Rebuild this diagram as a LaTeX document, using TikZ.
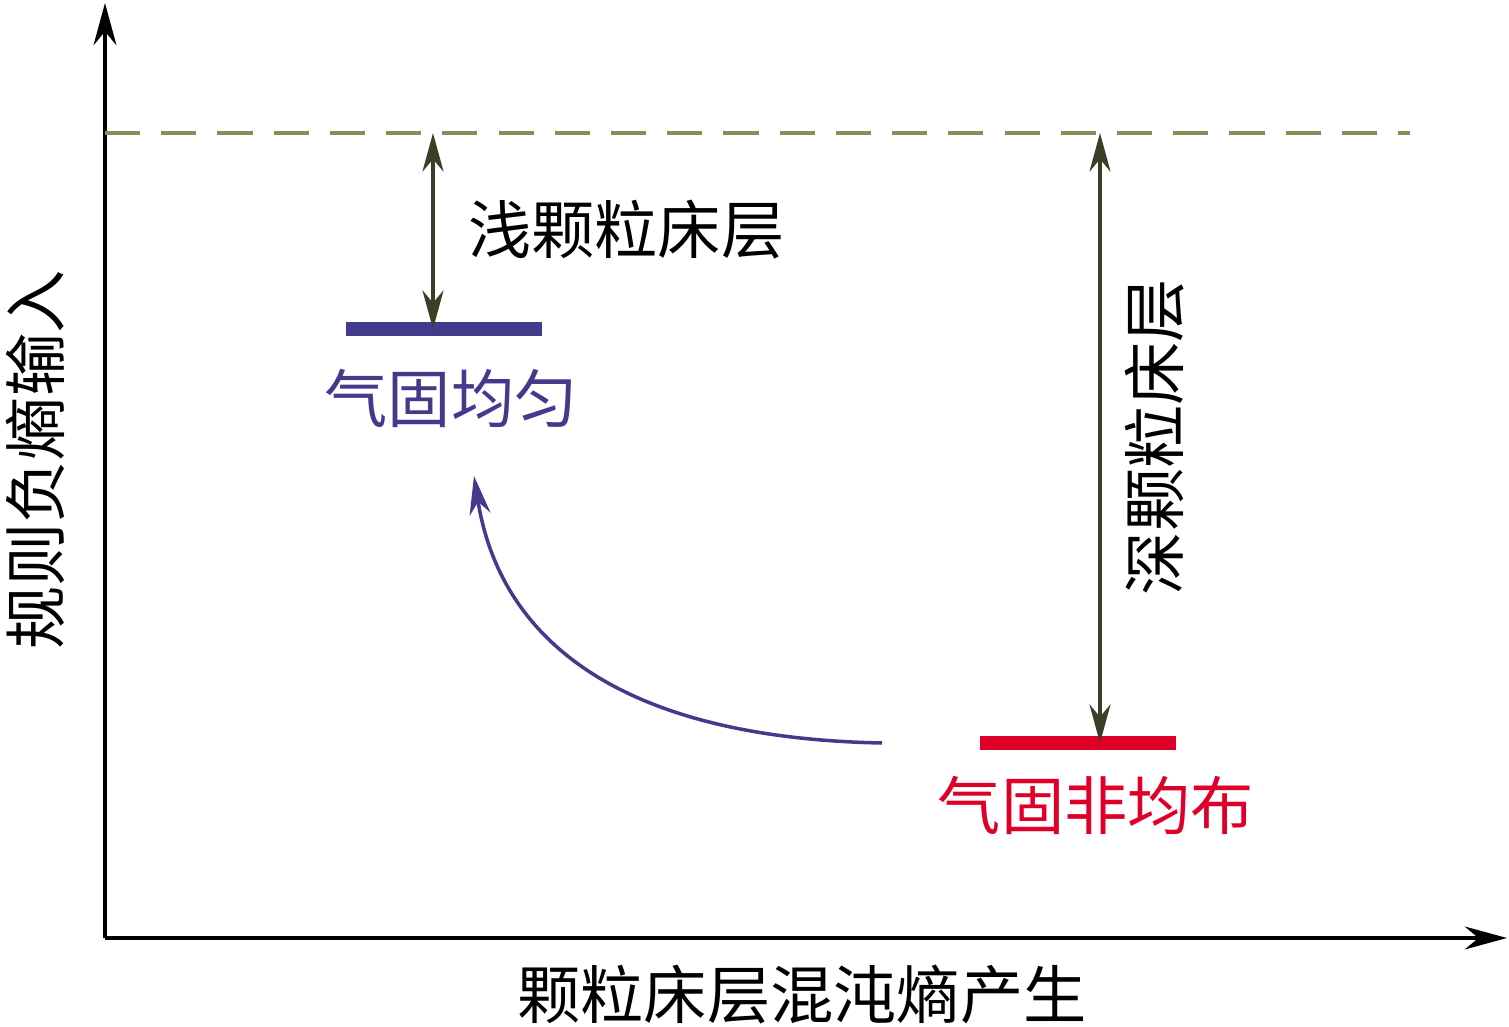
\documentclass[tikz,border=0pt]{standalone}
\usepackage{fontspec}
\newfontfamily\cjk{Noto Sans CJK SC}
\usetikzlibrary{arrows.meta}
\definecolor{olivedash}{RGB}{140,140,90}
\definecolor{arrowdark}{RGB}{62,62,40}
\definecolor{homoblue}{RGB}{68,58,140}
\definecolor{heterored}{RGB}{222,0,40}
\begin{document}
\begin{tikzpicture}[x=0.02cm, y=-0.02cm, >=Stealth, font=\cjk\fontsize{36}{42}\selectfont, line join=round]
	\useasboundingbox (0,0) rectangle (1509,1027);
	% axes
	\coordinate (O) at (105,938);
	\coordinate (ytop) at (105,3);
	\coordinate (xend) at (1507,938);
	\draw[line width=2.4pt, -{Stealth[length=24pt,width=13pt]}] (O)--(ytop);
	\draw[line width=2.4pt, -{Stealth[length=24pt,width=13pt]}] (O)--(xend);
	\path (35,460) node[rotate=90] (ylab) {规则负熵输入};
	\path (802,995) node (xlab) {颗粒床层混沌熵产生};
	% reference level
	\coordinate (dl) at (105,133);
	\coordinate (dr) at (1410,133);
	\draw[olivedash, line width=2.2pt, dash pattern=on 20pt off 12pt] (dl)--(dr);
	% levels
	\coordinate (bl) at (346,329); \coordinate (br) at (542,329);
	\coordinate (rl) at (980,743); \coordinate (rr) at (1176,743);
	\draw[homoblue, line width=7.5pt] (bl)--(br);
	\draw[heterored, line width=7.5pt] (rl)--(rr);
	\path (451,398) node[homoblue] (homo) {气固均匀};
	\path (1096,805) node[heterored] (hetero) {气固非均布};
	% bed depth arrows
	\coordinate (s1) at (433,133); \coordinate (s2) at (433,329);
	\coordinate (d1) at (1100,133); \coordinate (d2) at (1100,743);
	\draw[arrowdark, line width=2.2pt, {Stealth[length=22pt,width=12pt]}-{Stealth[length=22pt,width=12pt]}] (s1)--(s2);
	\draw[arrowdark, line width=2.2pt, {Stealth[length=22pt,width=12pt]}-{Stealth[length=22pt,width=12pt]}] (d1)--(d2);
	\path (462,230) node[anchor=west] (shallow) {浅颗粒床层};
	\path (1155,437) node[rotate=90] (deep) {深颗粒床层};
	% transition
	\coordinate (c1) at (882,743);
	\coordinate (c2) at (474,476);
	\draw[homoblue, line width=2pt, -{Stealth[length=22pt,width=12pt]}] (c1) .. controls (620,738) and (500,640) .. (c2);
\end{tikzpicture}
\end{document}
